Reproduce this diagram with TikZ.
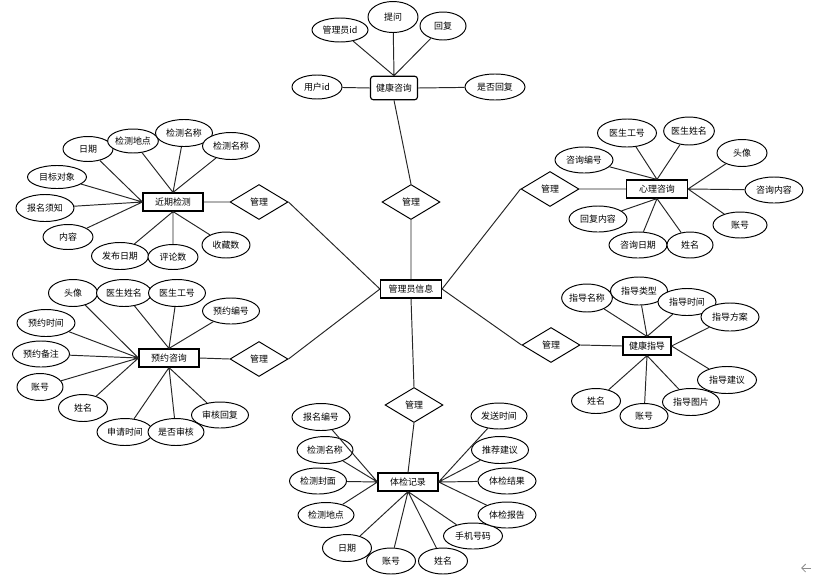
\documentclass[tikz,border=0pt]{standalone}
\usepackage{fontspec}
\newfontfamily\cn{Noto Sans CJK SC}
\usetikzlibrary{shapes.geometric,arrows.meta}
\newcommand\erfont{\cn\fontsize{5.1}{6}\selectfont}
\tikzset{
  ent/.style={draw=black,line width=0.65pt,fill=white,minimum width=1.2cm,
    minimum height=0.36cm,inner sep=0pt,font=\erfont},
  entr/.style={ent,rounded corners=1.6pt,minimum width=0.94cm,minimum height=0.47cm},
  attr/.style={draw=black,ellipse,line width=0.55pt,fill=white,inner sep=0pt,
    minimum width=1.14cm,minimum height=0.53cm,font=\erfont},
  ez/.style 2 args={minimum width=#1*0.02cm,minimum height=#2*0.02cm},
  rel/.style={draw=black,diamond,line width=0.55pt,fill=white,inner sep=0pt,
    minimum width=1.16cm,minimum height=0.7cm,font=\erfont},
  ln/.style={line width=0.55pt,black!85},
}
\begin{document}
\begin{tikzpicture}[x=0.02cm,y=-0.02cm]
  \useasboundingbox (0,0) rectangle (813,575);
  % centre and relations
  \node[ent,ez={61}{18}] (adm) at (411,289) {管理员信息};
  \node[rel] (r1) at (411,202) {管理};
  \node[rel] (r2) at (414,405) {管理};
  \node[rel] (r3) at (259,202) {管理};
  \node[rel] (r4) at (259,359) {管理};
  \node[rel] (r5) at (550,189) {管理};
  \node[rel] (r6) at (551,345) {管理};
  % health consult
  \node[entr] (hc) at (394,88) {健康咨询};
  \node[attr,ez={56}{24}] (hc1) at (340,30) {管理员id};
  \node[attr,ez={50}{31}] (hc2) at (393,17) {提问};
  \node[attr,ez={46}{28}] (hc3) at (443,26) {回复};
  \node[attr,ez={50}{24}] (hc4) at (317,87) {用户id};
  \node[attr,ez={60}{26}] (hc5) at (495,87) {是否回复};
  \draw[ln] (hc.north)--(hc1) (hc.north)--(hc2) (hc.north)--(hc3)
    (hc.west)--(hc4) (hc.east)--(hc5) (hc.south)--(r1.north) (r1.south)--(adm.north);
  % recent checks
  \node[ent] (rc) at (173,202) {近期检测};
  \node[attr,ez={50}{25}] (rc1) at (88,149) {日期};
  \node[attr,ez={50}{24}] (rc2) at (133,141) {检测地点};
  \node[attr,ez={57}{27}] (rc3) at (184,133) {检测名称};
  \node[attr,ez={57}{27}] (rc4) at (231,146) {检测名称};
  \node[attr,ez={59}{23}] (rc5) at (57,177) {目标对象};
  \node[attr,ez={58}{27}] (rc6) at (45,208) {报名须知};
  \node[attr,ez={50}{25}] (rc7) at (68,237) {内容};
  \node[attr,ez={57}{27}] (rc8) at (120,256) {发布日期};
  \node[attr,ez={50}{25}] (rc9) at (173,257) {评论数};
  \node[attr,ez={48}{26}] (rc10) at (226,245) {收藏数};
  \draw[ln] (rc.west)--(rc1) (rc.west)--(rc5) (rc.west)--(rc6) (rc.west)--(rc7)
    (rc.north)--(rc2) (rc.north)--(rc3) (rc.north)--(rc4)
    (rc.south)--(rc8) (rc.south)--(rc9) (rc.south)--(rc10)
    (rc.east)--(r3.west) (r3.east)--(adm.west);
  % psychological consult
  \node[ent,ez={61}{18}] (pc) at (657,189) {心理咨询};
  \node[attr,ez={59}{28}] (pc1) at (627,133) {医生工号};
  \node[attr,ez={48}{28}] (pc2) at (689,131) {医生姓名};
  \node[attr,ez={58}{26}] (pc3) at (584,160) {咨询编号};
  \node[attr,ez={50}{27}] (pc4) at (742,153) {头像};
  \node[attr,ez={58}{26}] (pc5) at (774,190) {咨询内容};
  \node[attr,ez={54}{26}] (pc6) at (740,225) {账号};
  \node[attr,ez={58}{26}] (pc7) at (598,219) {回复内容};
  \node[attr,ez={58}{26}] (pc8) at (638,245) {咨询日期};
  \node[attr,ez={46}{26}] (pc9) at (690,245) {姓名};
  \draw[ln] (pc.north)--(pc1) (pc.north)--(pc2) (pc.north)--(pc3)
    (pc.east)--(pc4) (pc.east)--(pc5) (pc.east)--(pc6)
    (pc.south)--(pc7) (pc.south)--(pc8) (pc.south)--(pc9)
    (r5.east)--(pc.west) (adm.east)--(r5.west);
  % health guidance
  \node[ent,ez={48}{18}] (hg) at (647,346) {健康指导};
  \node[attr,ez={50}{28}] (hg1) at (587,298) {指导名称};
  \node[attr,ez={57}{28}] (hg2) at (639,291) {指导类型};
  \node[attr,ez={58}{27}] (hg3) at (687,302) {指导时间};
  \node[attr,ez={58}{28}] (hg4) at (730,317) {指导方案};
  \node[attr,ez={59}{27}] (hg5) at (727,380) {指导建议};
  \node[attr,ez={57}{27}] (hg6) at (691,402) {指导图片};
  \node[attr,ez={48}{25}] (hg7) at (644,416) {账号};
  \node[attr,ez={49}{25}] (hg8) at (596,401) {姓名};
  \draw[ln] (hg.north)--(hg1) (hg.north)--(hg2) (hg.north)--(hg3)
    (hg.east)--(hg4) (hg.east)--(hg5)
    (hg.south)--(hg6) (hg.south)--(hg7) (hg.south)--(hg8)
    (r6.east)--(hg.west) (adm.east)--(r6.west);
  % appointments
  \node[ent] (ac) at (169,358) {预约咨询};
  \node[attr,ez={49}{27}] (ac1) at (73,293) {头像};
  \node[attr,ez={55}{27}] (ac2) at (124,293) {医生姓名};
  \node[attr,ez={57}{27}] (ac3) at (177,293) {医生工号};
  \node[attr,ez={57}{26}] (ac4) at (231,311) {预约编号};
  \node[attr,ez={58}{27}] (ac5) at (46,323) {预约时间};
  \node[attr,ez={57}{26}] (ac6) at (41,354) {预约备注};
  \node[attr,ez={46}{27}] (ac7) at (40,387) {账号};
  \node[attr,ez={49}{27}] (ac8) at (83,408) {姓名};
  \node[attr,ez={56}{27}] (ac9) at (125,432) {申请时间};
  \node[attr,ez={56}{27}] (ac10) at (176,432) {是否审核};
  \node[attr,ez={57}{26}] (ac11) at (220,415) {审核回复};
  \draw[ln] (ac.west)--(ac1) (ac.west)--(ac5) (ac.west)--(ac6) (ac.west)--(ac7)
    (ac.west)--(ac8) (ac.north)--(ac2) (ac.north)--(ac3) (ac.north)--(ac4)
    (ac.south)--(ac9) (ac.south)--(ac10) (ac.south)--(ac11)
    (r4.west)--(ac.east) (r4.east)--(adm.west);
  % medical records
  \node[ent] (mr) at (408,482) {体检记录};
  \node[attr,ez={58}{27}] (mr1) at (321,417) {报名编号};
  \node[attr,ez={56}{27}] (mr2) at (325,450) {检测名称};
  \node[attr,ez={57}{26}] (mr3) at (318,481) {检测封面};
  \node[attr,ez={56}{25}] (mr4) at (326,515) {检测地点};
  \node[attr,ez={49}{27}] (mr5) at (347,548) {日期};
  \node[attr,ez={49}{26}] (mr6) at (391,561) {账号};
  \node[attr,ez={49}{26}] (mr7) at (443,561) {姓名};
  \node[attr,ez={59}{26}] (mr8) at (473,536) {手机号码};
  \node[attr,ez={56}{26}] (mr9) at (499,416) {发送时间};
  \node[attr,ez={57}{27}] (mr10) at (500,450) {推荐建议};
  \node[attr,ez={58}{26}] (mr11) at (507,481) {体检结果};
  \node[attr,ez={58}{26}] (mr12) at (507,515) {体检报告};
  \draw[ln] (mr.west)--(mr1) (mr.west)--(mr2) (mr.west)--(mr3) (mr.west)--(mr4)
    (mr.south)--(mr5) (mr.south)--(mr6) (mr.south)--(mr7) (mr.south)--(mr8)
    (mr.east)--(mr9) (mr.east)--(mr10) (mr.east)--(mr11) (mr.east)--(mr12)
    (r2.south)--(mr.north) (adm.south)--(r2.north);
  % back arrow
  \coordinate (bk1) at (811,568);
  \coordinate (bk0) at (801,568);
  \draw[black!45,line width=0.5pt,-{Straight Barb[length=0.8mm,width=1.6mm]}] (bk1)--(bk0);
\end{tikzpicture}
\end{document}
